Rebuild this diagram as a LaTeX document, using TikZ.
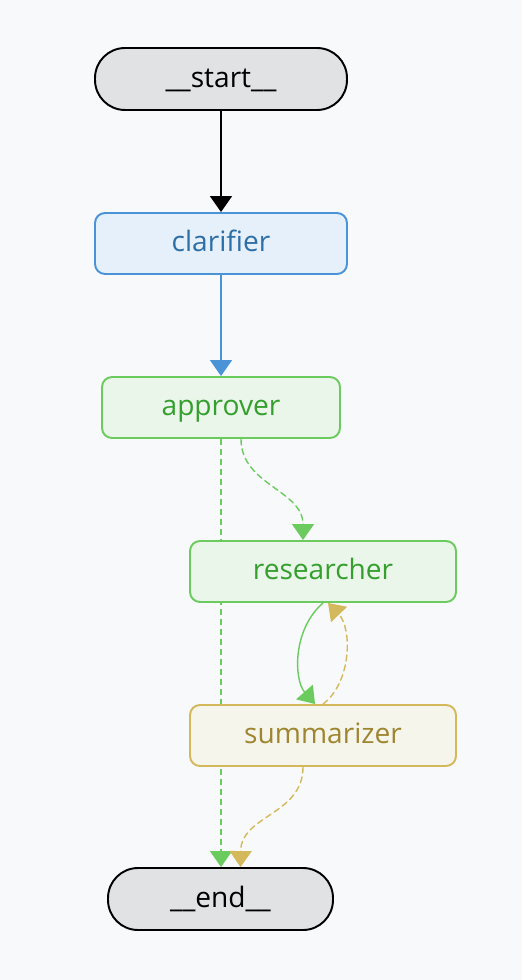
\documentclass[tikz,border=0pt]{standalone}
\usepackage{fontspec}
\setmainfont{Open Sans}
\usetikzlibrary{arrows.meta,backgrounds}
\definecolor{bgpage}{HTML}{F8F9FB}
\definecolor{termfill}{HTML}{E1E2E4}
\definecolor{blueline}{HTML}{4A93D7}
\definecolor{bluefill}{HTML}{E6F0FA}
\definecolor{bluetext}{HTML}{2C6EA6}
\definecolor{greenline}{HTML}{6CCB5F}
\definecolor{greenfill}{HTML}{EAF6EA}
\definecolor{greentext}{HTML}{349F2D}
\definecolor{goldline}{HTML}{D4B85C}
\definecolor{goldfill}{HTML}{F6F5EC}
\definecolor{goldtext}{HTML}{9E8530}
\tikzset{
  term/.style={draw=black,fill=termfill,line width=1.1pt,rounded corners=0.6cm,
    minimum width=#1,minimum height=1.24cm,text height=2ex,text depth=0.2ex,
    font=\fontsize{16}{19}\selectfont},
  stepbox/.style={line width=1.1pt,rounded corners=0.2cm,
    minimum height=1.22cm,text height=2ex,text depth=0.2ex,
    font=\fontsize{16}{19}\selectfont},
  tip/.style={-{Triangle[width=0.44cm,length=0.32cm]},line width=0.8pt},
  dashes/.style={dash pattern=on 0.12cm off 0.08cm}
}
\begin{document}
\begin{tikzpicture}[line cap=round,line join=round,x=0.02cm,y=-0.02cm]
            \useasboundingbox (0,0) rectangle (522,980);

            \node[term=5.04cm] (start) at (221,79) {\_\_start\_\_};
            \node[stepbox,draw=blueline,fill=bluefill,text=bluetext,minimum width=5.04cm] (clarifier) at (221,243.5) {clarifier};
            \node[stepbox,draw=greenline,fill=greenfill,text=greentext,minimum width=4.76cm] (approver) at (221,407.5) {approver};
            \node[stepbox,draw=greenline,fill=greenfill,text=greentext,minimum width=5.32cm] (researcher) at (323,571.5) {researcher};
            \node[stepbox,draw=goldline,fill=goldfill,text=goldtext,minimum width=5.32cm] (summarizer) at (323,735.5) {summarizer};
            \node[term=4.5cm] (end) at (220.5,899) {\_\_end\_\_};

            \draw[tip,black,line width=1pt] (start) -- (clarifier);
            \draw[tip,blueline] (clarifier) -- (approver);
            \draw[tip,greenline,dashes] ([xshift=0.4cm]approver.south) .. controls (241,485) and (303,490) .. ([xshift=-0.4cm]researcher.north);
            \draw[tip,greenline] (researcher.south) .. controls (292,630) and (294,680) .. ([xshift=-0.16cm]summarizer.north);
            \draw[tip,goldline,dashes] (summarizer.north) .. controls (352,682) and (352,628) .. ([xshift=0.1cm]researcher.south);
            \draw[tip,goldline,dashes] ([xshift=-0.4cm]summarizer.south) .. controls (303,815) and (241,815) .. ([xshift=0.4cm]end.north);

            % the long dashed edge runs behind the boxes
            \begin{scope}[on background layer]
              \fill[bgpage] (0,0) rectangle (522,980);
              \draw[tip,greenline,dashes] (approver.south) -- (end.north -| approver.south);
            \end{scope}
        \end{tikzpicture}
\end{document}
